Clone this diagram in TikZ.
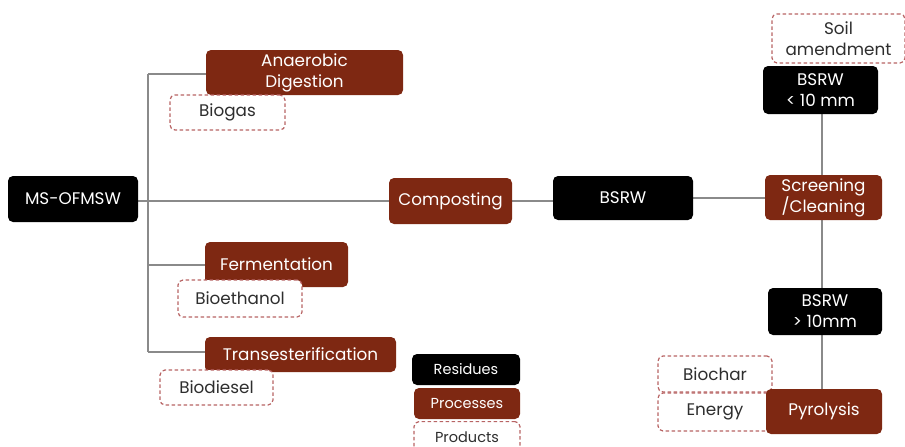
\documentclass[tikz,border=0pt]{standalone}
\usepackage{fontspec}
\setmainfont{Poppins}
\usetikzlibrary{backgrounds}
\definecolor{procred}{HTML}{7E2812}
\definecolor{dashred}{HTML}{B86464}
\definecolor{linegray}{HTML}{8A8A8A}
\definecolor{prodtext}{HTML}{2E2E2E}
\begin{document}
\begin{tikzpicture}[x=1pt,y=-1pt,
  base/.style={rounded corners=5pt, align=center, inner sep=0pt, font=\fontsize{16.8}{21}\selectfont},
  residue/.style={base, fill=black, text=white},
  process/.style={base, fill=procred, text=white},
  product/.style={base, fill=white, draw=dashred, line width=1.2pt, dash pattern=on 3.5pt off 2.5pt, text=prodtext},
  legend/.style={font=\fontsize{14.5}{17}\selectfont},
  conn/.style={draw=linegray, line width=1.6pt}]
\useasboundingbox (0,0) rectangle (905,447);
% nodes
\node[residue, minimum width=130pt, minimum height=46pt] (ms) at (73,199) {MS-OFMSW};
\node[process, minimum width=197pt, minimum height=45pt] (ad) at (304.5,72.5) {Anaerobic\\Digestion};
\node[product, minimum width=115pt, minimum height=35pt] (biogas) at (227.5,112.5) {Biogas};
\node[process, minimum width=123pt, minimum height=46pt] (comp) at (450.5,201) {Composting};
\node[residue, minimum width=140pt, minimum height=44pt] (bsrw) at (623,198) {BSRW};
\node[process, minimum width=117pt, minimum height=45pt] (screen) at (823.5,197.5) {Screening\\/Cleaning};
\node[product, minimum width=133pt, minimum height=49pt] (soil) at (838.5,38.5) {Soil\\amendment};
\node[residue, minimum width=115pt, minimum height=48pt] (small) at (820.5,90) {BSRW\\\textless{} 10 mm};
\node[residue, minimum width=114pt, minimum height=47pt] (large) at (825,311.5) {BSRW\\\textgreater{} 10mm};
\node[product, minimum width=114pt, minimum height=36pt] (biochar) at (715,374) {Biochar};
\node[product, minimum width=114pt, minimum height=38pt] (energy) at (715,412) {Energy};
\node[process, minimum width=116pt, minimum height=45pt] (pyro) at (824,411.5) {Pyrolysis};
\node[process, minimum width=143pt, minimum height=45pt] (ferm) at (276.5,264.5) {Fermentation};
\node[product, minimum width=124pt, minimum height=37pt] (bioeth) at (240,298.5) {Bioethanol};
\node[process, minimum width=191pt, minimum height=35pt] (trans) at (300.5,354.5) {Transesterification};
\node[product, minimum width=113pt, minimum height=35pt] (biodiesel) at (216.5,387.5) {Biodiesel};
\node[residue, legend, minimum width=108pt, minimum height=31pt] (legres) at (466,369.5) {Residues};
\node[process, legend, minimum width=106pt, minimum height=31pt] (legproc) at (467,403.5) {Processes};
\node[product, legend, minimum width=106pt, minimum height=32pt, anchor=north] (legprod) at (467,421) {Products};
% connectors, behind the nodes
\coordinate (trunk) at (148,0);
\coordinate (spine) at (822,0);
\coordinate (adJoin) at (trunk |- 0,74);
\coordinate (fermJoin) at (trunk |- 0,265);
\coordinate (transJoin) at (trunk |- 0,352);
\begin{scope}[on background layer]
\draw[conn] (adJoin) -- (transJoin);
\draw[conn] (adJoin) -- (ad.west |- adJoin);
\draw[conn] (fermJoin) -- (ferm.west |- fermJoin);
\draw[conn] (transJoin) -- (trans.west |- transJoin);
\draw[conn] (ms.east |- comp.west) -- (comp.west);
\draw[conn] (comp.east) -- (comp.east -| bsrw.west);
\draw[conn] (bsrw.east) -- (bsrw.east -| screen.west);
\draw[conn] (small.south -| spine) -- (screen.north -| spine);
\draw[conn] (screen.south -| spine) -- (large.north -| spine);
\draw[conn] (large.south -| spine) -- (pyro.north -| spine);
\end{scope}
\end{tikzpicture}
\end{document}
